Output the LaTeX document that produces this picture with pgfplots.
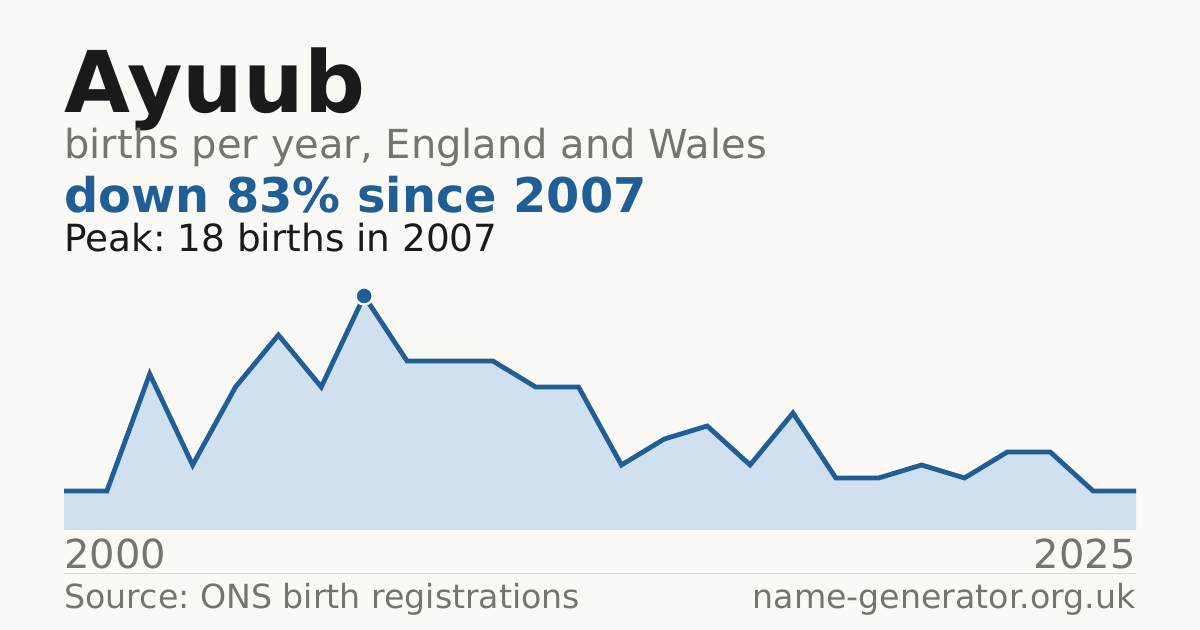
\documentclass[border=0pt]{standalone}
\usepackage{pgfplots}
\pgfplotsset{compat=1.18}
\usepackage{fontspec}
\setmainfont{DejaVu Sans}
\frenchspacing

\definecolor{bg}{HTML}{FAF9F5}
\definecolor{ink}{HTML}{1A1A1A}
\definecolor{muted}{HTML}{78736C}
\definecolor{navy}{HTML}{1F5F96}
\definecolor{areafill}{HTML}{D0E0EF}
\definecolor{rule}{HTML}{DEDBD4}

\begin{document}
\begin{tikzpicture}
% 1 px of the 1200x630 reference = 0.5pt
\fill[bg] (0,0) rectangle (600pt,315pt);

\node[anchor=base west, inner sep=0, text=ink, font=\fontsize{42.6}{42.6}\selectfont\bfseries] at (32pt,258.5pt) {Ayuub};
\node[anchor=base west, inner sep=0, text=muted, font=\fontsize{20}{20}\selectfont] at (32pt,235.5pt) {births per year, England and Wales};
\node[anchor=base west, inner sep=0, text=navy, font=\fontsize{23.9}{23.9}\selectfont\bfseries] at (32pt,208.5pt) {down 83\% since 2007};
\node[anchor=base west, inner sep=0, text=ink, font=\fontsize{18.7}{18.7}\selectfont] at (32pt,189pt) {Peak: 18 births in 2007};

\begin{axis}[
    at={(32pt,50pt)}, anchor=south west,
    scale only axis,
    width=536pt, height=117pt,
    xmin=2000, xmax=2025,
    ymin=0, ymax=18,
    hide axis,
    clip=false,
    ]
    \addplot[fill=areafill, draw=none] coordinates {
        (2000,3) (2001,3) (2002,12) (2003,5) (2004,11) (2005,15) (2006,11)
        (2007,18) (2008,13) (2009,13) (2010,13) (2011,11) (2012,11) (2013,5)
        (2014,7) (2015,8) (2016,5) (2017,9) (2018,4) (2019,4) (2020,5)
        (2021,4) (2022,6) (2023,6) (2024,3) (2025,3)
    } \closedcycle;
    \addplot[navy, line width=2.4pt, mark=none] coordinates {
        (2000,3) (2001,3) (2002,12) (2003,5) (2004,11) (2005,15) (2006,11)
        (2007,18) (2008,13) (2009,13) (2010,13) (2011,11) (2012,11) (2013,5)
        (2014,7) (2015,8) (2016,5) (2017,9) (2018,4) (2019,4) (2020,5)
        (2021,4) (2022,6) (2023,6) (2024,3) (2025,3)
    };
    \addplot[only marks, mark=*, mark size=4.3pt,
        mark options={fill=navy, draw=bg, line width=1.2pt}] coordinates {(2007,18)};
\end{axis}

\node[anchor=base west, inner sep=0, text=muted, font=\fontsize{20}{20}\selectfont] at (32pt,30.5pt) {2000};
\node[anchor=base east, inner sep=0, text=muted, font=\fontsize{20}{20}\selectfont] at (568pt,30.5pt) {2025};
\draw[rule, line width=0.5pt] (32pt,28pt) -- (568pt,28pt);
\node[anchor=base west, inner sep=0, text=muted, font=\fontsize{16.6}{16.6}\selectfont] at (32pt,10.5pt) {Source: ONS birth registrations};
\node[anchor=base east, inner sep=0, text=muted, font=\fontsize{16.6}{16.6}\selectfont] at (568pt,10.5pt) {name-generator.org.uk};

\pgfresetboundingbox
\path[use as bounding box] (0,0) rectangle (600pt,315pt);
\end{tikzpicture}
\end{document}
